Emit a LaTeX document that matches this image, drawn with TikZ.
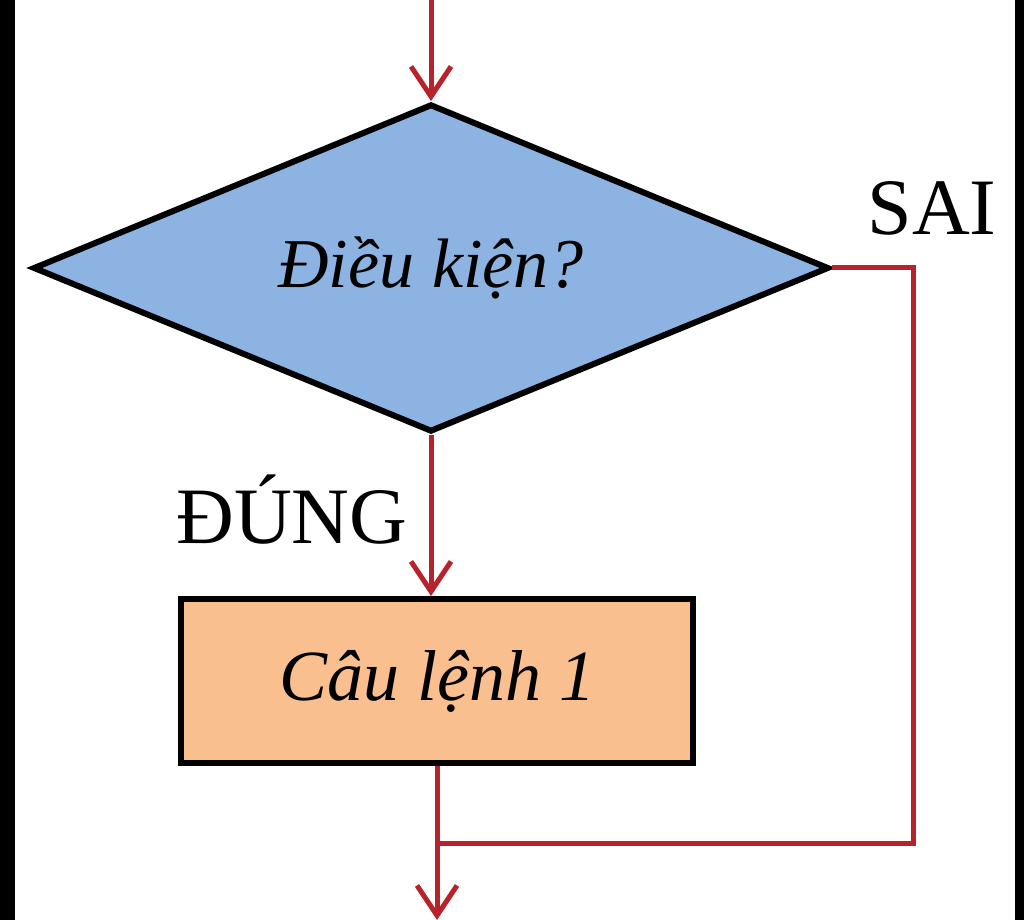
\documentclass[tikz,border=0pt]{standalone}
\usepackage{fontspec}
\setmainfont{Liberation Serif}
\usetikzlibrary{shapes.geometric,arrows.meta}
\definecolor{dkblue}{HTML}{8DB3E2}
\definecolor{clorange}{HTML}{FABF8F}
\definecolor{lnred}{HTML}{B8232B}
\tikzset{
	dkshape/.style={diamond, draw=black, line width=3pt, fill=dkblue, aspect=2.43,
		minimum width=398pt, minimum height=164pt, inner sep=0pt,
		font=\fontsize{35}{42}\selectfont\itshape},
	clbox/.style={rectangle, draw=black, line width=3pt, fill=clorange,
		minimum width=256pt, minimum height=82pt, inner sep=0pt,
		font=\fontsize{36}{43}\selectfont\itshape},
	lbl/.style={font=\fontsize{40}{48}\selectfont, inner sep=0pt},
	ln/.style={draw=lnred, line width=2.5pt},
	arr/.style={ln, -{Straight Barb[length=15pt, width=20pt, line width=2.5pt]}}
}
\begin{document}
\begin{tikzpicture}[x=0.5pt, y=-0.5pt]
	\fill[white] (0, 0) rectangle (1024, 920);
	\useasboundingbox (0, 0) rectangle (1024, 920);
	\fill[black] (0, 0) rectangle (15, 920);
	\fill[black] (1015, 0) rectangle (1024, 920);
	\node[dkshape] (dk) at (431, 268) {Điều kiện?};
	\node[clbox] (cl) at (437, 681) {Câu lệnh 1};
	\node[lbl] (sai) at (932, 208) {SAI};
	\node[lbl] (dung) at (292, 510) {ĐÚNG};
	\coordinate (vao) at (431, 0);
	\coordinate (ra) at (437, 920);
	\coordinate (goc) at (913, 843);
	\draw[arr] (vao) -- (dk.north);
	\draw[arr] (dk.south) -- (cl.north -| dk.south);
	\draw[arr] (cl.south) -- (ra);
	\draw[ln] (dk.east) -| (goc) -- (goc -| cl.south);
\end{tikzpicture}
\end{document}
